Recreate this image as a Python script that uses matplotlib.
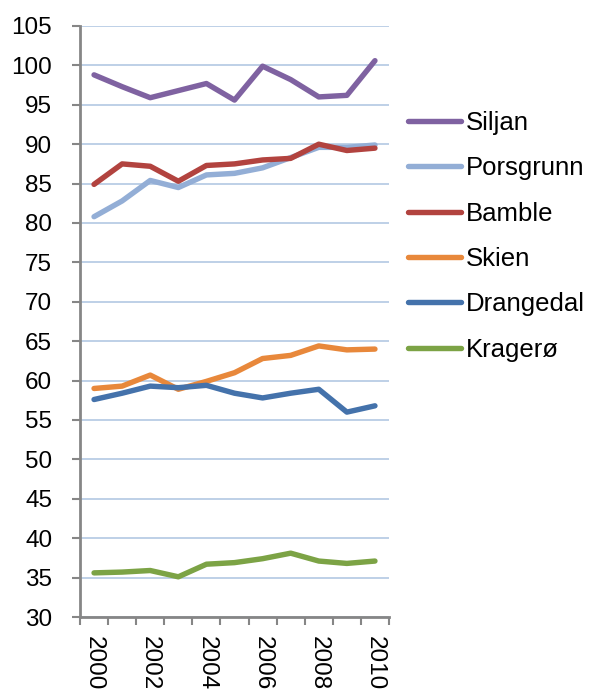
import matplotlib
matplotlib.use("Agg")
import matplotlib.pyplot as plt
import numpy as np

plt.rcParams['font.family'] = ['Liberation Sans', 'DejaVu Sans']

years = list(range(2000, 2011))
siljan = [98.8, 97.3, 95.9, 96.8, 97.7, 95.6, 99.9, 98.2, 96.0, 96.2, 100.6]
porsgrunn = [80.8, 82.8, 85.4, 84.5, 86.1, 86.3, 87.0, 88.3, 89.6, 89.6, 89.9]
bamble = [84.9, 87.5, 87.2, 85.3, 87.3, 87.5, 88.0, 88.2, 90.0, 89.2, 89.5]
skien = [59.0, 59.3, 60.7, 58.9, 59.9, 61.0, 62.8, 63.2, 64.4, 63.9, 64.0]
drangedal = [57.6, 58.4, 59.3, 59.1, 59.4, 58.4, 57.8, 58.4, 58.9, 56.0, 56.8]
kragero = [35.6, 35.7, 35.9, 35.1, 36.7, 36.9, 37.4, 38.1, 37.1, 36.8, 37.1]

series = [
    ("Siljan", siljan, "#7F62A1"),
    ("Porsgrunn", porsgrunn, "#93AED6"),
    ("Bamble", bamble, "#B2433F"),
    ("Skien", skien, "#E8883B"),
    ("Drangedal", drangedal, "#4472AB"),
    ("Kragerø", kragero, "#7CA345"),
]

fig = plt.figure(figsize=(5.92, 6.93), dpi=100)
ax = fig.add_axes([80/592, 1-617/693, (389-80)/592, (617-26)/693])

x = np.arange(len(years))
for name, vals, col in series:
    ax.plot(x, vals, color=col, lw=3.9, label=name, solid_capstyle='round', solid_joinstyle='round')

ax.set_xlim(-0.5, len(years) - 0.5)
ax.set_ylim(30, 105)
ax.set_yticks(np.arange(30, 106, 5))
ax.yaxis.grid(True, color="#B9CDE5", lw=1.3)
ax.set_axisbelow(True)

ax.set_xticks(x[::2])
ax.set_xticklabels([str(y) for y in years[::2]], rotation=-90, fontsize=17.5)
ax.set_xticks(np.arange(-0.5, len(years), 1), minor=True)
ax.tick_params(axis='x', which='major', length=0, pad=14)
ax.tick_params(axis='x', which='minor', length=6, width=1.5, color="#868686", direction='out')
ax.tick_params(axis='y', length=6, width=1.5, color="#868686", direction='out', labelsize=17.5, pad=14)

for s in ['top', 'right']:
    ax.spines[s].set_visible(False)
for s in ['left', 'bottom']:
    ax.spines[s].set_color("#868686")
    ax.spines[s].set_linewidth(2)

leg = fig.legend(loc='upper left', bbox_to_anchor=(408/592, 1-111/693), frameon=False,
                 fontsize=18.5, handlelength=2.05, handletextpad=0.2, labelspacing=0.83,
                 borderaxespad=0, borderpad=0)
for h in leg.get_lines():
    h.set_linewidth(3.9)
    h.set_solid_capstyle('round')

fig.savefig("out.png", dpi=100)
